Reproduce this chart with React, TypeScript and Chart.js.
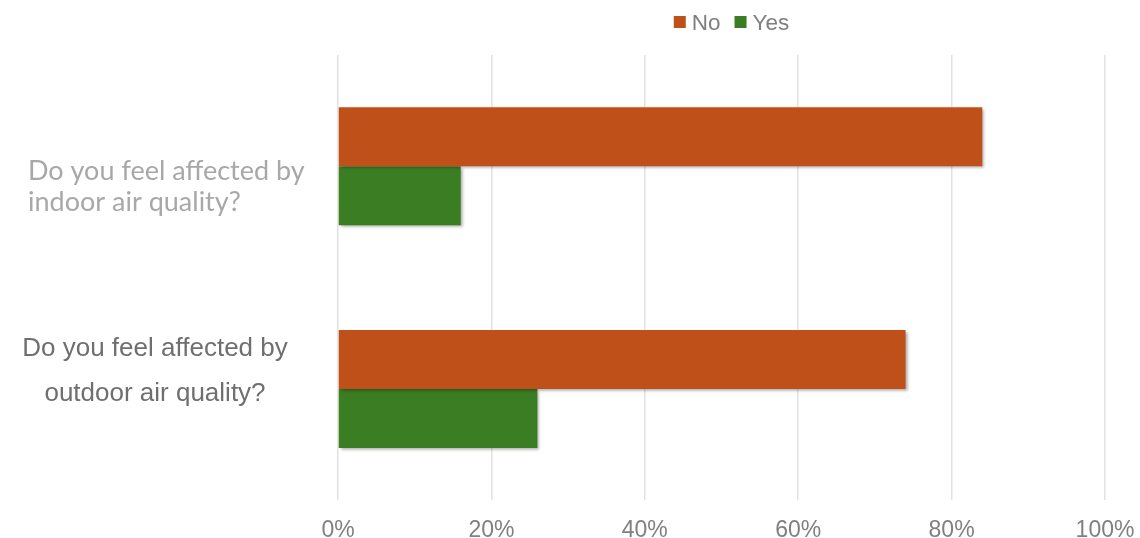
import React, { useEffect, useRef } from "react";
import { Chart, registerables } from "chart.js";

Chart.register(...registerables);

const categories = [
  "Do you feel affected by indoor air quality?",
  "Do you feel affected by outdoor air quality?",
];
const categoryLines = [
  ["Do you feel affected by", "indoor air quality?"],
  ["Do you feel affected by", "outdoor air quality?"],
];
const seriesNames = ["No", "Yes"];
const noValues = [84, 74];
const yesValues = [16, 26];
const xTickValues = [0, 20, 40, 60, 80, 100];

const seriesColors = ["#C0501A", "#3B7D23"];

const labelStyles = [
  { font: "27px Lato", color: "#A8A8A8", align: "left" as CanvasTextAlign, x: 28, baselines: [14, 45] },
  { font: "26px 'Liberation Sans', Arial", color: "#6F6F6F", align: "center" as CanvasTextAlign, x: 155, baselines: [-33, 12] },
];

const yLabelPlugin = {
  id: "yLabels",
  afterDraw(chart: any) {
    const ctx = chart.ctx;
    const yScale = chart.scales.y;
    ctx.save();
    categoryLines.forEach((lines, i) => {
      const st = labelStyles[i];
      const cy = yScale.getPixelForValue(i);
      ctx.font = st.font;
      ctx.fillStyle = st.color;
      ctx.textAlign = st.align;
      ctx.textBaseline = "alphabetic";
      lines.forEach((line, j) => {
        ctx.fillText(line, st.x, cy + st.baselines[j]);
      });
    });
    ctx.restore();
  },
};

const legendPlugin = {
  id: "customLegend",
  afterDraw(chart: any) {
    const ctx = chart.ctx;
    const area = chart.chartArea;
    const box = 12;
    const boxGap = 6;
    const itemGap = 14;
    ctx.save();
    ctx.font = "22.5px 'Liberation Sans', Arial";
    const widths = seriesNames.map((n) => box + boxGap + ctx.measureText(n).width);
    const total = widths.reduce((a, b) => a + b, 0) + itemGap * (seriesNames.length - 1);
    let x = (area.left + area.right) / 2 + 10 - total / 2;
    seriesNames.forEach((n, i) => {
      ctx.fillStyle = seriesColors[i];
      ctx.fillRect(x, 16, box, box);
      ctx.fillStyle = "#7F7F7F";
      ctx.textAlign = "left";
      ctx.textBaseline = "alphabetic";
      ctx.fillText(n, x + box + boxGap, 29.5);
      x += widths[i] + itemGap;
    });
    ctx.restore();
  },
};

const shadowPlugin = {
  id: "barShadow",
  beforeDatasetsDraw(chart: any) {
    const ctx = chart.ctx;
    ctx.save();
    ctx.shadowColor = "rgba(0,0,0,0.35)";
    ctx.shadowBlur = 3;
    ctx.shadowOffsetX = 2;
    ctx.shadowOffsetY = 2;
  },
  afterDatasetsDraw(chart: any) {
    chart.ctx.restore();
  },
};

export default function App() {
  const canvasRef = useRef<HTMLCanvasElement | null>(null);

  useEffect(() => {
    if (!canvasRef.current) return;
    const chart = new Chart(canvasRef.current, {
      type: "bar",
      data: {
        labels: categories,
        datasets: [
          { label: seriesNames[0], data: noValues, backgroundColor: seriesColors[0], borderWidth: 0 },
          { label: seriesNames[1], data: yesValues, backgroundColor: seriesColors[1], borderWidth: 0 },
        ],
      },
      options: {
        indexAxis: "y",
        animation: false,
        responsive: true,
        maintainAspectRatio: false,
        layout: { padding: { left: 338, right: 35, top: 55, bottom: -22 } },
        datasets: {
          bar: { barPercentage: 1, categoryPercentage: 0.53 },
        },
        plugins: {
          legend: { display: false },
          tooltip: { enabled: false },
        },
        scales: {
          x: {
            min: 0,
            max: 100,
            afterBuildTicks: (axis: any) => {
              axis.ticks = xTickValues.map((v) => ({ value: v }));
            },
            afterFit: (axis: any) => {
              axis.paddingRight = 0;
              axis.paddingLeft = 0;
            },
            ticks: {
              callback: (v: any) => v + "%",
              color: "#808080",
              padding: 16,
              maxRotation: 0,
              font: { family: "'Liberation Sans', Arial", size: 23 },
            },
            grid: { color: "#E2E2E2", lineWidth: 1.5, drawTicks: false },
            border: { display: false },
          },
          y: {
            display: false,
          },
        },
      },
      plugins: [shadowPlugin, yLabelPlugin, legendPlugin],
    });
    return () => chart.destroy();
  }, []);

  return (
    <div style={{ position: "fixed", left: 0, top: 0, width: 1140, height: 538, background: "#FFFFFF" }}>
      <canvas ref={canvasRef} />
    </div>
  );
}
